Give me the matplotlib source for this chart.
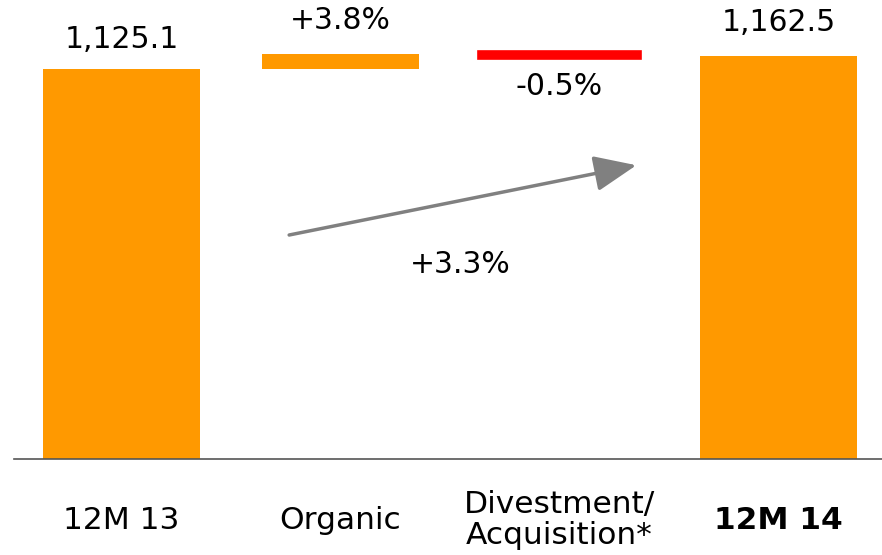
import matplotlib
matplotlib.use("Agg")
import matplotlib.pyplot as plt

categories = ["12M 13", "Organic", "Divestment/\nAcquisition*", "12M 14"]
start_value = 1125.1
end_value = 1162.5
organic_top = 1168.4
labels_top = ["1,125.1", "+3.8%", "-0.5%", "1,162.5"]
total_label = "+3.3%"

ORANGE = "#FF9900"
RED = "#FF0000"
GREY = "#808080"

plt.rcParams['font.family'] = ['DejaVu Sans']

fig = plt.figure(figsize=(8.82, 5.55), dpi=100)
ax = fig.add_axes([14/882, 96/555, 868/882, 459/555])

x = list(range(len(categories)))
w = 0.72
ax.bar(x[0], start_value, width=w, color=ORANGE)
ax.bar(x[1], organic_top - start_value, bottom=start_value, width=w, color=ORANGE)
ax.bar(x[2], organic_top - end_value, bottom=end_value, width=w, color=RED,
       edgecolor=RED, linewidth=5.5)
ax.bar(x[3], end_value, width=w, color=ORANGE)

ax.set_xlim(-0.491, 3.473)
ax.set_ylim(0, 1324)

fs = 21.5
ax.annotate(labels_top[0], (x[0], start_value), xytext=(0, 21), textcoords="offset points",
            ha="center", va="center", fontsize=fs)
ax.annotate(labels_top[1], (x[1], organic_top), xytext=(0, 24), textcoords="offset points",
            ha="center", va="center", fontsize=fs)
ax.annotate(labels_top[2], (x[2], end_value), xytext=(0, -22), textcoords="offset points",
            ha="center", va="center", fontsize=fs)
ax.annotate(labels_top[3], (x[3], end_value), xytext=(0, 24), textcoords="offset points",
            ha="center", va="center", fontsize=fs)

# growth arrow
ax.annotate("", xy=(0.717, 0.64), xytext=(0.317, 0.488), xycoords="axes fraction",
            arrowprops=dict(arrowstyle="-|>,head_length=1.3,head_width=0.55",
                            mutation_scale=20, color=GREY, lw=2.5, shrinkA=0, shrinkB=0))
ax.text(0.514, 0.423, total_label, transform=ax.transAxes, ha="center", va="center",
        fontsize=fs)

ax.set_xticks(x)
ax.set_xticklabels(categories, fontsize=22.5, va="center", linespacing=1.1)
ax.get_xticklabels()[3].set_fontweight("bold")
ax.tick_params(axis="x", length=0, pad=44)
ax.set_yticks([])
for s in ["top", "right", "left"]:
    ax.spines[s].set_visible(False)
ax.spines["bottom"].set_color("#555555")
ax.spines["bottom"].set_linewidth(1.2)

fig.savefig("out.png", dpi=100)
